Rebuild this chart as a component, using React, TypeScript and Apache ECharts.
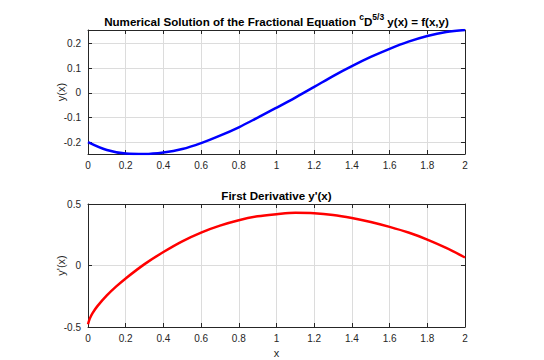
import React, { useEffect, useRef } from "react";
import * as echarts from "echarts";

// ---- data ----
const yXs = [0, 0.1, 0.2, 0.3, 0.4, 0.5, 0.6, 0.7, 0.8, 0.9, 1.0, 1.1, 1.2, 1.3, 1.4, 1.5, 1.6, 1.7, 1.8, 1.9, 2.0];
const yVals = [-0.199, -0.231, -0.245, -0.247, -0.241, -0.227, -0.203, -0.173, -0.139, -0.1, -0.06, -0.019, 0.024, 0.068, 0.108, 0.145, 0.178, 0.207, 0.23, 0.246, 0.254];

const dXs = [0, 0.01, 0.025, 0.05, 0.1, 0.15, 0.2, 0.3, 0.4, 0.5, 0.6, 0.7, 0.8, 0.9, 1.0, 1.1, 1.2, 1.3, 1.4, 1.5, 1.6, 1.7, 1.8, 1.9, 2.0];
const dVals = [-0.478, -0.43, -0.385, -0.33, -0.243, -0.17, -0.105, 0.011, 0.11, 0.197, 0.268, 0.324, 0.368, 0.4, 0.417, 0.428, 0.425, 0.411, 0.386, 0.354, 0.314, 0.268, 0.211, 0.143, 0.065];

const xRange = [0, 2];
const yRangeTop = [-0.247, 0.254];
const yRangeBottom = [-0.5, 0.5];

const titleTop = "Numerical Solution of the Fractional Equation {sup|c}D{sup|5/3} y(x) = f(x,y)";
const titleBottom = "First Derivative y'(x)";
const yNameTop = "y(x)";
const yNameBottom = "y'(x)";
const xName = "x";

const FONT = '"Liberation Sans", Arial, Helvetica, sans-serif';
const TXT = "#262626";
const GRIDC = "#dcdcdc";

const G1 = { left: 88, top: 30, width: 377, height: 124 };
const G2 = { left: 88, top: 204, width: 377, height: 123 };

const lineCommon = { show: true, onZero: false, lineStyle: { color: TXT, width: 1 } };
const tickCommon = { show: true, inside: true, length: 4, lineStyle: { color: TXT, width: 1 } };
const labelCommon = { color: TXT, fontSize: 10, fontFamily: FONT };
const splitCommon = { show: true, lineStyle: { color: GRIDC, width: 1 } };
const nameStyle = { color: TXT, fontSize: 11, fontFamily: FONT };

function buildOption() {
  const xAxis: any[] = [];
  const yAxis: any[] = [];
  [0, 1].forEach((gi) => {
    xAxis.push({
      type: "value",
      gridIndex: gi,
      min: xRange[0],
      max: xRange[1],
      interval: 0.2,
      position: "bottom",
      axisLine: lineCommon,
      axisTick: tickCommon,
      axisLabel: { ...labelCommon, margin: 6 },
      splitLine: splitCommon,
      name: gi === 1 ? xName : "",
      nameLocation: "middle",
      nameGap: 20,
      nameMoveOverlap: false,
      nameTextStyle: nameStyle,
    });
    xAxis.push({
      type: "value",
      gridIndex: gi,
      min: xRange[0],
      max: xRange[1],
      interval: 0.2,
      position: "top",
      axisLine: lineCommon,
      axisTick: tickCommon,
      axisLabel: { show: false },
      splitLine: { show: false },
    });
    const yr = gi === 0 ? yRangeTop : yRangeBottom;
    const yExtra = gi === 0 ? { splitNumber: 5 } : { interval: 0.5 };
    yAxis.push({
      type: "value",
      gridIndex: gi,
      min: yr[0],
      max: yr[1],
      ...yExtra,
      position: "left",
      axisLine: lineCommon,
      axisTick: tickCommon,
      axisLabel: { ...labelCommon, margin: 7, showMinLabel: gi === 1, showMaxLabel: gi === 1 },
      splitLine: splitCommon,
      name: gi === 0 ? yNameTop : yNameBottom,
      nameLocation: "middle",
      nameRotate: 90,
      nameGap: 22,
      nameMoveOverlap: false,
      nameTextStyle: nameStyle,
    });
    yAxis.push({
      type: "value",
      gridIndex: gi,
      min: yr[0],
      max: yr[1],
      ...yExtra,
      position: "right",
      axisLine: lineCommon,
      axisTick: tickCommon,
      axisLabel: { show: false },
      splitLine: { show: false },
    });
  });

  return {
    animation: false,
    backgroundColor: "#ffffff",
    textStyle: { fontFamily: FONT },
    grid: [
      { ...G1, containLabel: false, outerBoundsMode: "none" },
      { ...G2, containLabel: false, outerBoundsMode: "none" },
    ],
    xAxis,
    yAxis,
    series: [
      {
        type: "line",
        xAxisIndex: 0,
        yAxisIndex: 0,
        data: yXs.map((x, i) => [x, yVals[i]]),
        showSymbol: false,
        smooth: 0.35,
        lineStyle: { color: "#0000ff", width: 2.5 },
        itemStyle: { color: "#0000ff" },
      },
      {
        type: "line",
        xAxisIndex: 2,
        yAxisIndex: 2,
        data: dXs.map((x, i) => [x, dVals[i]]),
        showSymbol: false,
        smooth: 0.35,
        lineStyle: { color: "#ff0000", width: 2.5 },
        itemStyle: { color: "#ff0000" },
      },
    ],
    graphic: [
      {
        type: "text",
        x: 276.5,
        y: 21,
        style: {
          text: titleTop,
          fontSize: 11.6,
          fontWeight: "bold",
          fontFamily: FONT,
          fill: "#000000",
          align: "center",
          verticalAlign: "middle",
          textAlign: "center",
          textVerticalAlign: "middle",
          lineHeight: 17,
          rich: {
            sup: {
              fontSize: 8.5,
              fontWeight: "bold",
              fontFamily: FONT,
              fill: "#000000",
              lineHeight: 9,
              verticalAlign: "top",
            },
          },
        },
      },
      {
        type: "text",
        x: 276.5,
        y: 195,
        style: {
          text: titleBottom,
          fontSize: 11.6,
          fontWeight: "bold",
          fontFamily: FONT,
          fill: "#000000",
          align: "center",
          verticalAlign: "middle",
          textAlign: "center",
          textVerticalAlign: "middle",
        },
      },
    ],
  };
}

export default function App() {
  const ref = useRef<HTMLDivElement>(null);
  useEffect(() => {
    if (!ref.current) return;
    const chart = echarts.init(ref.current, null, { renderer: "svg" });
    chart.setOption(buildOption() as any);
    return () => chart.dispose();
  }, []);
  return (
    <div
      ref={ref}
      style={{ position: "fixed", left: 0, top: 0, width: 544, height: 360, background: "#fff" }}
    />
  );
}
